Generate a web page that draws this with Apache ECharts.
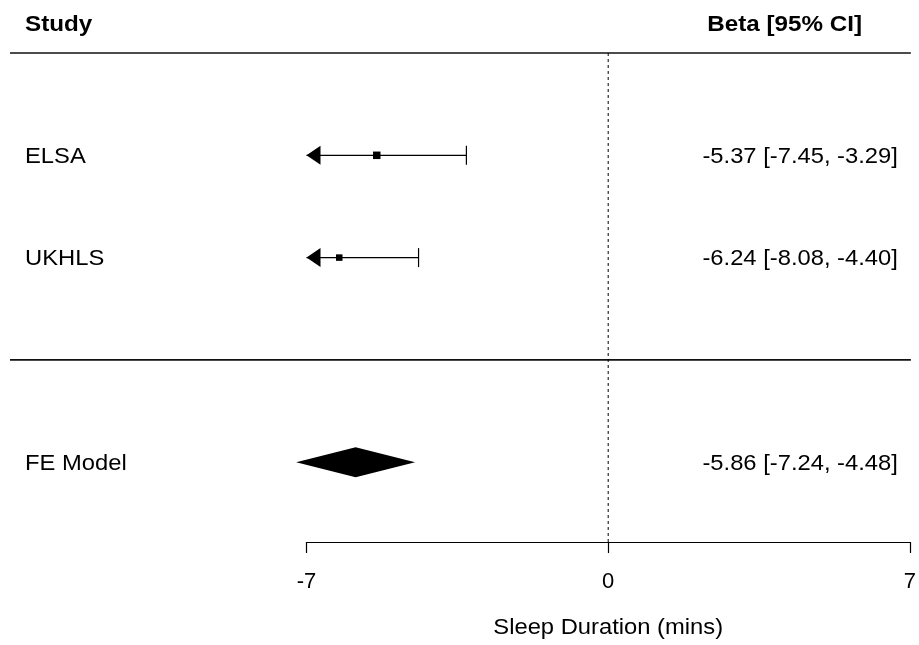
<!DOCTYPE html>
<html>
<head>
<meta charset="utf-8">
<script src="https://cdn.jsdelivr.net/npm/echarts@6/dist/echarts.min.js"></script>
<style>html,body{margin:0;padding:0;background:#fff}#c{width:919px;height:645px}</style>
</head>
<body>
<div id="c"></div>
<script>
var studies = ['ELSA', 'UKHLS'];
var estimates = [-5.37, -6.24];
var lowers = [-7.45, -8.08];
var uppers = [-3.29, -4.40];
var rows = [2, 1];
var squareSizes = [7.5, 6.5];
var summaryLabel = 'FE Model';
var summaryEst = -5.86;
var summaryLower = -7.24;
var summaryUpper = -4.48;
var summaryRow = -1;
var xTicks = [-7, 0, 7];
var xMin = -7, xMax = 7, xInterval = 7;
var yMin = -1.78, yMax = 3;
var headerLeft = 'Study';
var headerRight = 'Beta [95% CI]';
var axisTitle = 'Sleep Duration (mins)';

var FONT = 'Liberation Sans, Arial, sans-serif';
var SX = 1.08, SXB = 1.1;
function fmt(v){ return v.toFixed(2); }
function ciText(e,l,u){ return fmt(e) + ' [' + fmt(l) + ', ' + fmt(u) + ']'; }

var studyData = studies.map(function(s,i){ return [estimates[i], lowers[i], uppers[i], rows[i], squareSizes[i], i]; });

function txt(x, y, s, align, bold) {
  return { type: 'text', x: x, y: y, scaleX: bold ? SXB : SX,
    style: { text: s, font: (bold ? 'bold ' : '') + '22px ' + FONT, fill: '#000', textVerticalAlign: 'middle', textAlign: align } };
}

var chart = echarts.init(document.getElementById('c'), null, {renderer:'canvas'});
chart.setOption({
  backgroundColor: '#fff',
  animation: false,
  grid: { left: 306.5, right: 6, top: 53, bottom: 103 },
  xAxis: {
    type: 'value', min: xMin, max: xMax, interval: xInterval,
    splitLine: { show: false },
    axisLine: { show: true, onZero: false, lineStyle: { color: '#000', width: 1.2 } },
    axisTick: { show: true, inside: false, length: 11, lineStyle: { color: '#000', width: 1.2 } },
    axisLabel: { color: '#000', fontSize: 22, fontFamily: FONT, margin: 29,
      formatter: function(v){ return xTicks.indexOf(v) >= 0 ? String(v) : ''; } }
  },
  yAxis: { type: 'value', min: yMin, max: yMax, show: false },
  series: [
    {
      // structural lines, headers, axis title
      type: 'custom', silent: true, clip: false,
      data: [[yMax, 0]],
      renderItem: function(params, api){
        var cs = params.coordSys;
        var yTop = api.coord([0, yMax])[1];
        var ySep = api.coord([0, 0])[1];
        var p0 = api.coord([0, yMax]);
        var p1 = api.coord([0, yMin]);
        var x1 = 10, x2 = cs.x + cs.width + 1;
        return { type: 'group', children: [
          { type: 'line', shape: { x1: x1, y1: yTop, x2: x2, y2: yTop }, style: { stroke: '#111', lineWidth: 1.6 } },
          { type: 'line', shape: { x1: x1, y1: ySep, x2: x2, y2: ySep }, style: { stroke: '#111', lineWidth: 1.6 } },
          { type: 'line', shape: { x1: p0[0], y1: p0[1], x2: p1[0], y2: p1[1] }, style: { stroke: '#000', lineWidth: 1, lineDash: [3, 3] } },
          txt(25, 25, headerLeft, 'left', true),
          txt(862, 25, headerRight, 'right', true),
          txt(p0[0], 628, axisTitle, 'center', false)
        ]};
      }
    },
    {
      type: 'custom', silent: true, clip: false,
      data: studyData,
      renderItem: function(params, api){
        var cs = params.coordSys;
        var est = api.value(0), lo = api.value(1), hi = api.value(2), row = api.value(3), sz = api.value(4);
        var idx = api.value(5);
        var loC = Math.max(lo, xMin), hiC = Math.min(hi, xMax);
        var pE = api.coord([est, row]);
        var pL = api.coord([loC, row]);
        var pH = api.coord([hiC, row]);
        var y = pE[1];
        var children = [];
        children.push({ type: 'line', shape: { x1: pL[0], y1: y, x2: pH[0], y2: y }, style: { stroke: '#000', lineWidth: 1.2 } });
        if (lo < xMin) {
          children.push({ type: 'polygon', shape: { points: [[pL[0], y], [pL[0] + 14, y - 9.5], [pL[0] + 14, y + 9.5]] }, style: { fill: '#000' } });
        } else {
          children.push({ type: 'line', shape: { x1: pL[0], y1: y - 9.5, x2: pL[0], y2: y + 9.5 }, style: { stroke: '#000', lineWidth: 1.2 } });
        }
        if (hi > xMax) {
          children.push({ type: 'polygon', shape: { points: [[pH[0], y], [pH[0] - 14, y - 9.5], [pH[0] - 14, y + 9.5]] }, style: { fill: '#000' } });
        } else {
          children.push({ type: 'line', shape: { x1: pH[0], y1: y - 9.5, x2: pH[0], y2: y + 9.5 }, style: { stroke: '#000', lineWidth: 1.2 } });
        }
        children.push({ type: 'rect', shape: { x: pE[0] - sz / 2, y: y - sz / 2, width: sz, height: sz }, style: { fill: '#000' } });
        children.push(txt(25, y + 1.5, studies[idx], 'left', false));
        children.push(txt(cs.x + cs.width - 12, y + 1.5, ciText(estimates[idx], lowers[idx], uppers[idx]), 'right', false));
        return { type: 'group', children: children };
      }
    },
    {
      type: 'custom', silent: true, clip: false,
      data: [[summaryEst, summaryLower, summaryUpper, summaryRow]],
      renderItem: function(params, api){
        var cs = params.coordSys;
        var row = api.value(3);
        var pE = api.coord([api.value(0), row]);
        var pL = api.coord([api.value(1), row]);
        var pH = api.coord([api.value(2), row]);
        var y = pE[1];
        var h = 15;
        return { type: 'group', children: [
          { type: 'polygon', shape: { points: [[pL[0], y], [pE[0], y - h], [pH[0], y], [pE[0], y + h]] }, style: { fill: '#000' } },
          txt(25, y + 1.5, summaryLabel, 'left', false),
          txt(cs.x + cs.width - 12, y + 1.5, ciText(summaryEst, summaryLower, summaryUpper), 'right', false)
        ]};
      }
    }
  ]
});
</script>
</body>
</html>
